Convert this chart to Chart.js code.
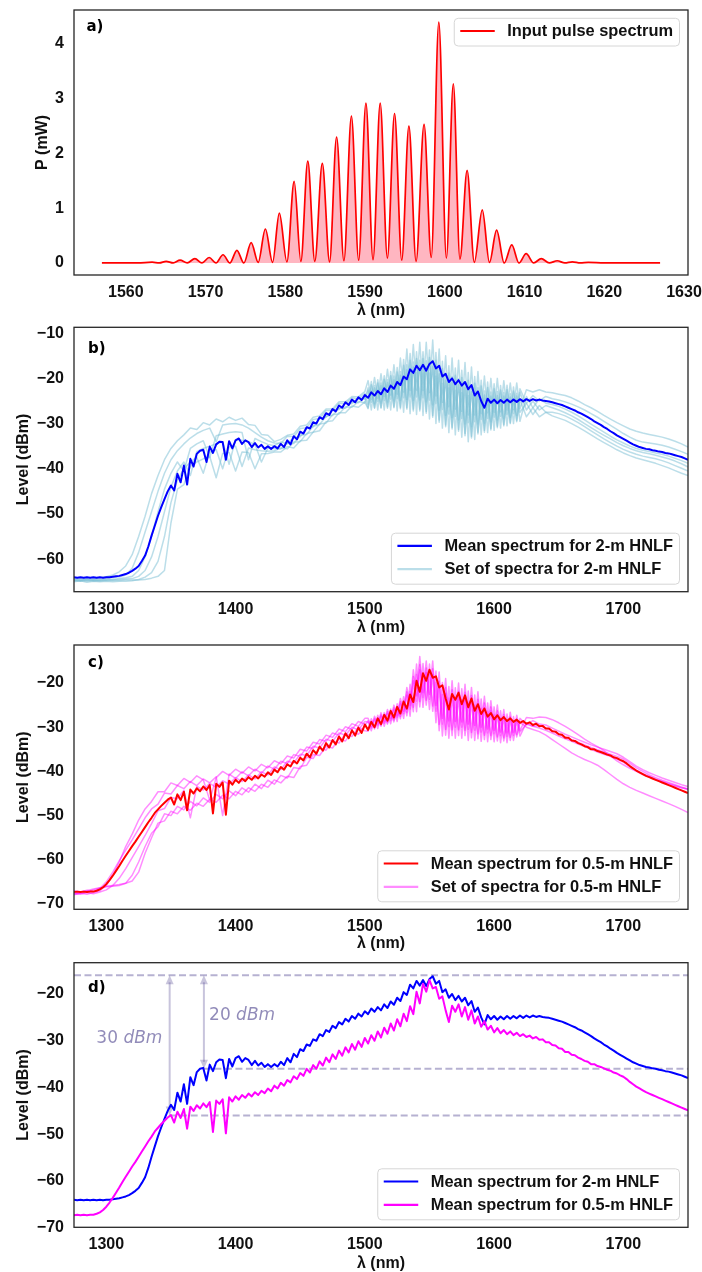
<!DOCTYPE html>
<html><head><meta charset="utf-8">
<script src="https://cdn.jsdelivr.net/npm/chart.js@4.4.1/dist/chart.umd.min.js"></script>
<style>
html,body{margin:0;padding:0;background:#fff;overflow:hidden}
#wrap{position:relative;width:702px;height:1272px;background:#fff}
canvas{position:absolute;left:0}
</style></head><body><div id="wrap">
<canvas id="cA" width="702" height="320" style="top:0px"></canvas>
<canvas id="cB" width="702" height="320" style="top:320px"></canvas>
<canvas id="cC" width="702" height="320" style="top:640px"></canvas>
<canvas id="cD" width="702" height="312" style="top:960px"></canvas>
</div>
<script>
// ---------- Panel a: input pulse spectrum ----------
const inputWl = [1557.0,1559.0,1561.5,1563.3,1564.2,1565.05,1565.95,1566.8,1567.7,1568.66,1569.55,1570.45,1571.3,1572.19,1573.05,1573.93,1574.8,1575.72,1576.6,1577.5,1578.4,1579.25,1580.2,1581.11,1581.95,1582.82,1583.7,1584.64,1585.55,1586.43,1587.35,1588.29,1589.2,1590.11,1591.0,1591.9,1592.8,1593.7,1594.6,1595.5,1596.4,1597.4,1598.3,1599.25,1600.2,1601.07,1601.9,1602.8,1603.7,1604.7,1605.6,1606.5,1607.45,1608.4,1609.3,1610.2,1611.15,1612.1,1613.1,1614.1,1615.05,1616.0,1617.0,1618.0,1620.0,1623.0,1627.0];
const inputP = [0.00,0.00,0.00,0.015,0.00,0.03,0.00,0.05,0.00,0.08,0.00,0.10,0.00,0.15,0.00,0.23,0.00,0.37,0.01,0.62,0.01,0.91,0.02,1.49,0.03,1.86,0.03,1.82,0.02,2.30,0.04,2.68,0.05,2.92,0.06,2.92,0.09,2.73,0.05,2.50,0.03,2.53,0.10,4.40,0.09,3.27,0.07,1.69,0.01,0.97,0.01,0.60,0.00,0.33,0.00,0.17,0.00,0.08,0.00,0.04,0.00,0.02,0.00,0.01,0.00,0.00,0.00];
const ticksA_x = [1560,1570,1580,1590,1600,1610,1620,1630];
const ticksA_y = [0,1,2,3,4];

// ---------- Wavelength grids (nm) ----------
const wlS = [1275,1280,1285,1290,1295,1300,1305,1310,1315,1320,1325,1330,1335,1340,1345,1350,1355,1360,1365,1370,1375,1380,1385,1390,1395,1400,1405,1410,1415,1420,1425,1430,1435,1440,1445,1450,1455,1460,1465,1470,1475,1480,1485,1490,1495,1500,
1502.5,1505,1507.5,1510,1512.5,1515,1517.5,1520,1522.5,1525,1527.5,1530,1532.5,1535,1537.5,1540,1542.5,1545,1547.5,1550,1552.5,1555,1557.5,1560,1562.5,1565,1567.5,1570,1572.5,1575,1577.5,1580,1582.5,1585,1587.5,1590,1592.5,1595,1597.5,1600,1602.5,1605,1607.5,1610,1612.5,1615,1617.5,1620,
1625,1630,1635,1640,1645,1650,1655,1660,1665,1670,1675,1680,1685,1690,1695,1700,1705,1710,1715,1720,1725,1730,1735,1740,1745,1750];
const wl25 = [1275,1277.5,1280,1282.5,1285,1287.5,1290,1292.5,1295,1297.5,1300,1302.5,1305,1307.5,1310,1312.5,1315,1317.5,1320,1322.5,1325,1327.5,1330,1332.5,1335,1337.5,1340,1342.5,1345,1347.5,
1350,1352.5,1355,1357.5,1360,1362.5,1365,1367.5,1370,1372.5,1375,1377.5,1380,1382.5,1385,1387.5,1390,1392.5,1395,1397.5,1400,1402.5,1405,1407.5,1410,1412.5,1415,1417.5,1420,1422.5,
1425,1427.5,1430,1432.5,1435,1437.5,1440,1442.5,1445,1447.5,1450,1452.5,1455,1457.5,1460,1462.5,1465,1467.5,1470,1472.5,1475,1477.5,1480,1482.5,1485,1487.5,1490,1492.5,1495,1497.5,
1500,1502.5,1505,1507.5,1510,1512.5,1515,1517.5,1520,1522.5,1525,1527.5,1530,1532.5,1535,1537.5,1540,1542.5,1545,1547.5,1550,1552.5,1555,1557.5,1560,1562.5,1565,1567.5,1570,1572.5,
1575,1577.5,1580,1582.5,1585,1587.5,1590,1592.5,1595,1597.5,1600,1602.5,1605,1607.5,1610,1612.5,1615,1617.5,1620,1622.5,1625,1627.5,1630,1632.5,1635,1637.5,1640,1642.5,1645,1647.5,
1650,1652.5,1655,1657.5,1660,1662.5,1665,1667.5,1670,1672.5,1675,1677.5,1680,1682.5,1685,1687.5,1690,1692.5,1695,1697.5,1700,1702.5,1705,1707.5,1710,1712.5,1715,1717.5,1720,1722.5,
1725,1727.5,1730,1732.5,1735,1737.5,1740,1742.5,1745,1747.5,1750];

// ---------- Mean spectra (dBm), on wl25 ----------
const mean2m = [-64.0,-64.1,-64.0,-64.1,-64.0,-64.1,-64.0,-64.1,-64.0,-64.1,-64.0,-64.0,-63.9,-63.8,-63.7,-63.5,-63.3,-63.0,-62.6,-62.1,-61.5,-60.4,-59.2,-57.2,-54.8,-52.6,-50.4,-48.5,-46.7,-45.0,
-43.7,-44.8,-41.1,-43.0,-39.3,-43.5,-37.8,-39.5,-36.7,-36.0,-35.8,-38.5,-35.1,-36.5,-34.6,-34.0,-34.1,-38.0,-33.9,-35.5,-33.7,-33.3,-34.5,-33.7,-34.1,-35.2,-34.3,-35.3,-34.7,-35.6,
-35.0,-35.6,-35.0,-35.5,-34.5,-35.2,-33.7,-34.6,-32.8,-33.5,-31.8,-32.2,-30.8,-31.1,-29.7,-30.0,-28.6,-29.0,-27.7,-28.1,-26.8,-27.3,-26.0,-26.5,-25.3,-25.9,-24.7,-25.3,-24.2,-24.8,
-23.7,-24.3,-23.1,-23.8,-22.8,-23.5,-22.2,-23.0,-21.6,-22.3,-20.8,-21.5,-19.6,-20.2,-18.0,-18.8,-17.2,-18.2,-17.0,-18.3,-16.8,-16.2,-17.8,-17.2,-19.6,-19.0,-20.8,-20.0,-21.3,-20.4,
-21.6,-20.8,-22.4,-21.5,-23.8,-22.9,-25.0,-26.5,-24.5,-25.4,-24.7,-25.5,-24.8,-25.4,-24.7,-25.3,-24.7,-25.2,-24.6,-25.1,-24.6,-25.0,-24.6,-24.9,-24.7,-24.9,-25.0,-25.1,-25.3,-25.5,
-25.7,-25.9,-26.2,-26.5,-26.8,-27.1,-27.5,-27.8,-28.2,-28.6,-29.0,-29.5,-29.9,-30.3,-30.8,-31.2,-31.7,-32.1,-32.6,-33.0,-33.4,-33.8,-34.2,-34.6,-34.9,-35.2,-35.4,-35.6,-35.7,-35.9,
-36.0,-36.2,-36.3,-36.5,-36.6,-36.8,-37.0,-37.2,-37.4,-37.7,-38.0];
const mean05m = [-67.3,-67.2,-67.3,-67.2,-67.3,-67.2,-67.2,-67.0,-66.7,-66.2,-65.5,-64.6,-63.6,-62.5,-61.4,-60.2,-59.1,-58.0,-56.9,-55.9,-54.8,-53.7,-52.6,-51.5,-50.5,-49.4,-48.6,-47.8,-47.1,-46.4,
-45.9,-47.5,-45.2,-46.5,-44.6,-48.8,-44.1,-45.0,-43.8,-44.5,-43.4,-44.2,-43.1,-49.5,-42.8,-43.5,-42.5,-49.8,-42.1,-43.0,-41.9,-42.6,-41.6,-42.2,-41.3,-41.9,-41.0,-41.6,-40.7,-41.2,
-40.2,-40.8,-39.6,-40.2,-39.0,-39.6,-38.4,-38.9,-37.6,-38.2,-36.9,-37.5,-36.0,-36.8,-35.2,-36.0,-34.4,-35.3,-33.6,-34.6,-32.9,-33.9,-32.1,-33.2,-31.4,-32.5,-30.7,-31.9,-30.1,-31.3,
-29.4,-30.6,-28.8,-30.0,-28.0,-29.3,-27.2,-28.5,-26.3,-27.8,-25.4,-26.9,-24.2,-25.8,-22.6,-24.3,-19.5,-22.0,-17.8,-19.5,-17.0,-18.8,-18.5,-21.0,-20.5,-23.5,-26.0,-22.5,-23.8,-22.2,
-24.8,-22.8,-25.5,-23.5,-26.3,-24.8,-27.0,-25.8,-27.6,-26.8,-28.2,-27.3,-28.4,-27.7,-28.6,-28.0,-28.8,-28.3,-29.0,-28.6,-29.2,-28.9,-29.5,-29.2,-29.8,-29.7,-30.3,-30.3,-30.9,-31.0,
-31.6,-31.7,-32.4,-32.4,-33.0,-33.1,-33.6,-33.9,-34.3,-34.5,-35.0,-35.0,-35.4,-35.6,-35.9,-36.2,-36.4,-36.8,-37.0,-37.4,-37.7,-38.2,-38.8,-39.3,-39.8,-40.2,-40.6,-41.0,-41.3,-41.6,
-41.9,-42.2,-42.5,-42.8,-43.1,-43.4,-43.7,-44.0,-44.3,-44.6,-44.9];

// ---------- Set of spectra, 2-m HNLF (on wlS) ----------
const set2m_1 = [-64.3,-64.6,-64.2,-64.5,-64.1,-63.9,-63.5,-62.8,-61.5,
-59.0,-55.0,-50.5,-45.5,-41.5,-38.0,-35.5,-33.8,-32.5,-31.0,-31.3,-29.8,-30.3,-29.0,-29.6,-28.6,-29.3,-28.8,-30.2,-30.4,-32.4,-32.6,-34.0,
-33.5,-32.6,-32.3,-30.6,-30.3,-28.6,-28.3,-26.8,-26.7,-25.2,-25.2,-24.0,-24.1,-22.9,
-20.5,-24.6,-19.8,-24.4,-19.0,-24.0,-18.0,-23.7,-17.0,-23.5,-15.5,-23.0,-13.5,-22.6,-12.5,-22.6,-12.0,-22.7,-12.0,-23.1,-11.5,-23.9,-13.5,-25.3,-15.0,-26.3,-15.5,-26.8,-16.0,-27.3,-16.5,-28.1,-17.5,-28.1,-18.5,-27.8,-19.5,-27.6,-20.0,-27.5,-20.0,-27.4,-20.5,-27.0,-21.0,-26.9,-21.0,-26.7,
-22.5,-23.0,-22.5,-23.0,-23.2,-23.5,-23.8,-24.3,-25.0,-25.8,-26.5,-27.3,-28.2,-29.0,-29.8,-30.5,-31.2,-31.7,-32.1,-32.4,-32.7,-33.0,-33.4,-33.9,-34.5,-35.2];
const set2m_2 = [-64.5,-64.3,-64.6,-64.4,-64.5,-64.3,-64.1,-63.9,-63.5,
-62.0,-58.5,-54.0,-49.5,-45.0,-41.0,-38.0,-36.0,-34.5,-33.2,-32.2,-31.5,-31.0,-34.0,-30.3,-30.1,-30.0,-30.3,-31.0,-32.0,-33.0,-33.8,-34.3,
-34.4,-32.8,-32.9,-31.1,-30.9,-29.1,-28.9,-27.1,-27.1,-25.5,-25.6,-24.3,-24.6,-23.3,
-25.7,-20.7,-25.6,-20.3,-25.4,-19.4,-25.2,-18.5,-25.0,-17.6,-24.9,-15.8,-24.7,-14.5,-24.9,-14.1,-24.8,-14.1,-25.2,-13.7,-25.9,-14.3,-27.1,-16.2,-28.2,-17.2,-28.7,-17.7,-29.2,-18.2,-30.1,-18.7,-30.7,-19.6,-30.1,-20.4,-29.9,-20.8,-29.6,-21.2,-29.2,-21.6,-28.9,-21.5,-28.6,-21.9,-28.2,-22.3,
-25.5,-23.8,-25.0,-24.0,-24.5,-24.8,-25.2,-25.7,-26.3,-27.0,-27.8,-28.6,-29.5,-30.4,-31.3,-32.2,-33.0,-33.7,-34.1,-34.3,-34.5,-34.8,-35.2,-35.7,-36.2,-36.8];
const set2m_3 = [-64.8,-64.6,-64.9,-64.7,-64.8,-64.6,-64.5,-64.3,-64.1,
-63.8,-62.5,-59.5,-55.0,-49.5,-44.5,-41.0,-38.5,-40.5,-35.5,-34.5,-33.8,-37.5,-32.7,-32.3,-32.0,-31.8,-32.0,-38.0,-33.3,-34.0,-34.6,-34.9,
-34.1,-34.4,-33.1,-32.9,-31.1,-30.7,-28.9,-28.6,-26.9,-26.9,-25.4,-25.6,-24.3,-24.6,
-22.1,-27.0,-21.6,-27.0,-21.0,-27.0,-20.3,-27.0,-19.5,-27.2,-18.5,-27.5,-17.0,-27.8,-16.4,-28.0,-16.0,-28.2,-16.1,-29.0,-16.0,-30.0,-17.8,-31.0,-19.1,-32.0,-19.6,-32.5,-20.1,-33.0,-20.8,-34.0,-21.6,-33.5,-22.1,-32.5,-22.8,-32.0,-23.0,-31.5,-22.9,-31.0,-23.1,-30.5,-23.4,-30.0,-23.3,-29.5,
-24.0,-26.5,-24.5,-25.5,-25.8,-26.2,-26.8,-27.5,-28.3,-29.2,-30.1,-31.0,-31.9,-32.8,-33.6,-34.3,-35.0,-35.5,-35.9,-36.2,-36.5,-36.8,-37.2,-37.7,-38.2,-38.8];
const set2m_4 = [-64.6,-64.8,-64.5,-64.7,-64.6,-64.5,-64.6,-64.5,-64.4,
-64.3,-63.8,-62.5,-59.5,-55.0,-49.5,-44.0,-40.5,-38.5,-41.5,-36.2,-35.5,-35.0,-34.5,-34.0,-39.0,-33.5,-33.7,-34.0,-34.6,-38.5,-35.4,-35.5,
-35.6,-34.4,-34.4,-32.6,-32.4,-30.6,-30.2,-28.4,-28.2,-26.6,-26.6,-25.2,-25.4,-24.2,
-26.5,-21.4,-26.5,-21.0,-26.4,-20.2,-26.3,-19.4,-26.3,-18.6,-26.4,-17.1,-26.5,-16.0,-26.8,-15.6,-26.8,-15.6,-27.3,-15.4,-28.2,-16.0,-29.2,-17.8,-30.3,-18.8,-30.8,-19.3,-31.3,-19.8,-32.2,-20.4,-32.8,-21.1,-31.9,-21.7,-31.5,-22.0,-31.1,-22.3,-30.6,-22.6,-30.2,-22.5,-29.8,-22.8,-29.3,-23.1,
-27.0,-25.0,-27.0,-26.0,-26.5,-27.0,-27.6,-28.3,-29.1,-30.0,-30.9,-31.8,-32.6,-33.4,-34.2,-34.9,-35.5,-36.0,-36.4,-36.7,-37.0,-37.4,-37.8,-38.3,-38.9,-39.6];
const set2m_5 = [-65.0,-64.8,-65.1,-64.9,-65.0,-64.9,-65.0,-64.9,-64.9,
-64.8,-64.5,-64.0,-63.0,-60.5,-55.0,-47.5,-42.5,-40.0,-38.5,-37.5,-41.0,-36.3,-35.8,-40.0,-35.2,-35.0,-39.5,-35.4,-35.8,-36.0,-36.1,-36.0,
-35.4,-35.6,-34.1,-34.0,-32.2,-31.9,-30.1,-29.9,-28.0,-27.9,-26.3,-26.4,-25.1,-25.4,
-22.6,-25.3,-22.1,-25.1,-21.6,-24.9,-20.9,-24.6,-20.3,-24.5,-19.3,-24.3,-18.1,-24.1,-17.5,-24.1,-17.2,-24.3,-17.4,-24.8,-17.4,-25.6,-19.0,-26.9,-20.4,-27.9,-20.9,-28.4,-21.4,-28.9,-22.0,-29.8,-22.9,-29.6,-23.2,-29.1,-23.7,-28.9,-23.9,-28.6,-23.8,-28.4,-23.9,-28.0,-24.1,-27.8,-23.9,-27.5,
-25.5,-28.0,-26.0,-27.5,-27.5,-27.8,-28.3,-29.0,-29.8,-30.7,-31.6,-32.5,-33.4,-34.2,-35.0,-35.7,-36.3,-36.8,-37.2,-37.5,-37.8,-38.2,-38.7,-39.3,-39.9,-40.5];
const set2m_6 = [-64.7,-64.9,-64.6,-64.8,-64.7,-64.8,-64.7,-64.7,-64.6,
-64.6,-64.6,-64.5,-64.2,-63.8,-62.5,-52.0,-44.5,-43.5,-39.5,-38.5,-37.8,-37.3,-42.0,-36.6,-36.4,-40.5,-36.3,-36.4,-40.0,-36.7,-36.6,-36.3,
-36.3,-35.1,-35.4,-33.8,-33.7,-31.9,-31.6,-29.6,-29.4,-27.6,-27.6,-26.1,-26.4,-25.2,
-26.7,-22.8,-26.6,-22.5,-26.6,-21.9,-26.6,-21.3,-26.5,-20.8,-26.7,-19.7,-26.8,-18.9,-27.2,-18.7,-27.2,-18.8,-27.7,-18.8,-28.6,-19.5,-29.7,-21.1,-30.7,-22.1,-31.2,-22.6,-31.7,-23.1,-32.7,-23.8,-33.2,-24.2,-32.3,-24.4,-31.9,-24.5,-31.4,-24.6,-30.9,-24.7,-30.5,-24.5,-30.0,-24.6,-29.6,-24.7,
-28.5,-26.5,-28.5,-27.5,-28.3,-28.8,-29.3,-30.0,-30.8,-31.6,-32.5,-33.4,-34.2,-35.0,-35.8,-36.5,-37.1,-37.6,-38.0,-38.4,-38.8,-39.3,-39.8,-40.4,-41.0,-41.5];

// ---------- Set of spectra, 0.5-m HNLF (on wlS) ----------
const set05m_1 = [-67.8,-67.5,-67.8,-67.4,-67.0,-65.8,
-63.5,-60.5,-57.0,-54.2,-51.0,-48.5,-46.8,-44.6,-44.6,-42.6,-43.2,-41.6,-42.5,-41.0,-41.9,-46.5,-41.4,-40.0,-40.9,-39.5,-40.4,-39.0,-39.9,-38.4,-39.2,-37.6,-38.3,-36.5,-37.0,-35.0,-35.4,-33.4,-33.8,-31.8,-32.3,-30.4,-31.0,-29.2,-29.8,-28.0,
-28.0,-29.9,-27.5,-29.3,-26.7,-28.8,-26.0,-28.1,-25.0,-27.4,-23.5,-26.4,-21.0,-25.1,-17.0,-22.9,-14.0,-22.2,-15.0,-22.6,-15.0,-25.1,-17.5,-28.0,-19.0,-28.6,-19.5,-28.7,-20.0,-28.8,-20.3,-29.3,-21.0,-29.6,-22.0,-30.0,-23.0,-30.4,-24.0,-30.7,-25.0,-31.1,-26.0,-31.3,-26.6,-31.2,-27.3,-30.7,
-27.8,-28.0,-27.7,-27.8,-28.3,-29.0,-29.8,-30.7,-31.7,-32.7,-33.6,-34.4,-35.3,-36.5,-37.6,-38.5,-39.3,-40.0,-40.7,-41.3,-41.9,-42.4,-42.9,-43.3,-43.7,-44.0];
const set05m_2 = [-67.0,-67.3,-66.9,-67.2,-66.5,-65.0,
-62.8,-60.2,-57.8,-55.5,-53.0,-50.5,-48.5,-47.4,-44.9,-45.1,-43.2,-43.9,-42.3,-43.2,-41.7,-42.6,-41.2,-50.0,-40.6,-41.6,-40.1,-41.0,-39.5,-40.4,-38.8,-39.5,-37.7,-38.2,-36.2,-36.6,-34.5,-34.8,-32.8,-33.2,-31.3,-31.8,-29.9,-30.5,-28.7,-29.3,
-30.6,-28.1,-30.1,-27.3,-29.5,-26.7,-29.0,-25.9,-28.4,-24.7,-27.6,-23.1,-26.7,-20.3,-25.5,-15.7,-24.2,-15.6,-23.9,-15.7,-25.2,-17.3,-29.4,-19.9,-30.5,-20.8,-30.6,-21.1,-30.6,-21.3,-30.7,-21.8,-31.2,-22.7,-31.5,-23.6,-31.8,-24.5,-31.9,-25.4,-32.2,-26.3,-32.4,-27.0,-32.3,-27.6,-31.7,-28.0,
-29.5,-28.5,-29.3,-29.5,-30.2,-30.9,-31.6,-32.2,-32.8,-33.4,-34.0,-34.5,-35.0,-35.5,-36.0,-36.8,-37.8,-38.8,-39.6,-40.3,-40.9,-41.5,-42.0,-42.5,-43.0,-43.4];
const set05m_3 = [-67.5,-67.8,-67.4,-67.7,-67.3,-66.8,
-65.8,-64.2,-62.0,-59.5,-57.0,-54.5,-51.8,-48.9,-48.4,-45.9,-46.2,-44.3,-50.5,-43.4,-44.2,-42.7,-43.6,-42.1,-42.9,-41.4,-42.3,-40.8,-41.7,-40.1,-40.8,-39.0,-39.6,-37.7,-38.1,-36.1,-36.4,-34.3,-34.7,-32.7,-33.2,-31.3,-31.8,-30.0,-30.6,-28.7,
-28.8,-30.8,-28.3,-30.3,-27.5,-29.8,-26.9,-29.2,-26.0,-28.7,-24.7,-28.0,-22.7,-27.5,-19.5,-26.5,-17.0,-25.5,-17.6,-26.0,-18.0,-29.0,-21.0,-32.0,-22.4,-32.5,-22.8,-32.5,-23.1,-32.5,-23.4,-33.0,-24.0,-33.0,-24.8,-33.2,-25.6,-33.3,-26.3,-33.3,-27.1,-33.5,-27.9,-33.5,-28.3,-33.0,-28.6,-32.0,
-29.0,-29.8,-29.6,-30.2,-30.8,-31.5,-32.2,-32.8,-33.4,-34.0,-34.6,-35.1,-35.6,-36.1,-36.6,-37.2,-38.2,-39.2,-40.0,-40.8,-41.4,-42.0,-42.5,-43.0,-43.5,-44.0];
const set05m_4 = [-67.6,-67.3,-67.0,-66.6,-66.3,-66.1,
-66.0,-65.8,-65.3,-63.5,-60.5,-57.0,-54.0,-52.5,-49.6,-50.0,-47.9,-48.7,-46.8,-47.8,-46.0,-47.0,-45.2,-46.2,-44.4,-45.5,-43.7,-44.7,-42.9,-43.9,-42.0,-42.9,-40.9,-41.5,-39.1,-39.4,-36.8,-37.1,-34.7,-35.2,-33.0,-33.6,-31.4,-32.1,-30.0,-30.8,
-30.9,-28.7,-30.4,-28.0,-29.8,-27.4,-29.3,-26.6,-28.8,-25.6,-28.1,-24.2,-27.4,-21.9,-26.5,-18.1,-25.4,-17.8,-25.0,-18.0,-26.4,-19.9,-30.8,-22.6,-31.8,-23.4,-31.9,-23.6,-31.9,-23.8,-31.9,-24.3,-32.4,-25.0,-32.6,-25.7,-32.8,-26.4,-32.8,-27.1,-33.1,-27.9,-33.1,-28.5,-33.0,-28.8,-32.2,-28.9,
-30.0,-30.5,-31.0,-31.8,-32.8,-33.8,-34.8,-35.8,-36.6,-37.3,-37.9,-38.6,-39.6,-40.7,-41.8,-42.8,-43.6,-44.3,-44.9,-45.5,-46.1,-46.7,-47.3,-47.9,-48.6,-49.3];
const set05m_5 = [-67.9,-67.6,-67.2,-66.8,-66.4,-66.0,
-65.8,-65.6,-65.3,-64.8,-62.8,-58.5,-55.0,-51.7,-51.2,-49.0,-49.6,-47.9,-48.8,-47.2,-47.9,-46.3,-47.0,-45.4,-46.2,-44.5,-45.3,-43.7,-44.5,-42.9,-43.6,-41.9,-42.6,-41.1,-41.4,-38.9,-38.6,-36.2,-36.4,-34.3,-34.7,-32.7,-33.1,-31.1,-31.6,-29.7,
-28.5,-30.2,-28.0,-29.6,-27.2,-29.1,-26.5,-28.5,-25.6,-27.8,-24.2,-26.9,-22.0,-25.9,-18.5,-24.1,-15.8,-23.3,-16.6,-23.7,-16.8,-26.4,-19.6,-29.3,-21.0,-29.9,-21.5,-30.0,-21.9,-30.0,-22.1,-30.5,-22.8,-30.7,-23.7,-31.1,-24.5,-31.3,-25.4,-31.5,-26.3,-31.9,-27.1,-32.1,-27.6,-31.8,-28.1,-31.1,
-29.3,-29.8,-30.2,-30.7,-31.3,-32.0,-32.6,-33.2,-33.8,-34.4,-35.0,-35.6,-36.1,-36.6,-37.2,-37.9,-38.9,-39.8,-40.5,-41.1,-41.7,-42.2,-42.7,-43.2,-43.7,-44.1];

// ---------- Tick labels ----------
const ticksWl = [1300,1400,1500,1600,1700];
const ticksB_y = [-60,-50,-40,-30,-20,-10];
const ticksC_y = [-70,-60,-50,-40,-30,-20];
const ticksD_y = [-70,-60,-50,-40,-30,-20];

// ---------- Panel d reference levels (dBm) ----------
const refPeak = -16;
const refLevels = [-36, -46];
const refLabels = ['20 ', '30 '];

// ================= drawing =================
const FONT = 'Liberation Sans';
const TXT = '#111111';
const BLUE = '#0000ff', RED = '#ff0000', MAG = '#ff00ff';
const SETB = 'rgba(120,190,212,0.5)';
const SETC = 'rgba(255,0,255,0.45)';
const GUIDE = 'rgba(72,61,139,0.4)';
const ARROW = 'rgba(72,61,139,0.3)';
const GTEXT = 'rgba(72,61,139,0.6)';

function fmt(v){ return v < 0 ? '\u2212' + Math.abs(v) : String(v); }
function pts(xs, ys){ return xs.map((x,i)=>({x:x, y:ys[i]})); }

const decor = {
  id: 'decor',
  beforeDatasetsDraw(chart, args, o) {
    if (!o.guides) return;
    const ctx = chart.ctx, xs = chart.scales.x, ys = chart.scales.y, g = o.guides;
    ctx.save();
    ctx.strokeStyle = GUIDE; ctx.lineWidth = 2; ctx.setLineDash([7,3.5]);
    g.hlines.forEach(h => {
      ctx.beginPath();
      ctx.moveTo(xs.getPixelForValue(h.x1), ys.getPixelForValue(h.y));
      ctx.lineTo(xs.getPixelForValue(h.x2), ys.getPixelForValue(h.y));
      ctx.stroke();
    });
    ctx.setLineDash([]);
    ctx.strokeStyle = ARROW; ctx.fillStyle = ARROW; ctx.lineWidth = 2;
    g.arrows.forEach(a => {
      const x = xs.getPixelForValue(a.x), y1 = ys.getPixelForValue(a.y1), y2 = ys.getPixelForValue(a.y2);
      ctx.beginPath(); ctx.moveTo(x, y1 - 7); ctx.lineTo(x, y2 + 7); ctx.stroke();
      ctx.beginPath(); ctx.moveTo(x, y2); ctx.lineTo(x - 4, y2 + 9); ctx.lineTo(x + 4, y2 + 9); ctx.closePath(); ctx.fill();
      ctx.beginPath(); ctx.moveTo(x, y1); ctx.lineTo(x - 4, y1 - 9); ctx.lineTo(x + 4, y1 - 9); ctx.closePath(); ctx.fill();
    });
    ctx.fillStyle = GTEXT; ctx.textBaseline = 'middle'; ctx.textAlign = 'left';
    g.texts.forEach(t => {
      let x = xs.getPixelForValue(t.x); const y = ys.getPixelForValue(t.y);
      ctx.font = '17px "DejaVu Sans"'; ctx.fillText(t.num, x, y);
      x += ctx.measureText(t.num).width;
      ctx.font = 'italic 17px "DejaVu Sans"'; ctx.fillText(t.unit, x, y);
    });
    ctx.restore();
  },
  afterDatasetsDraw(chart, args, o) {
    const ctx = chart.ctx, a = chart.chartArea;
    ctx.save();
    ctx.strokeStyle = '#262626'; ctx.lineWidth = 1.3;
    ctx.strokeRect(a.left, a.top, a.right - a.left, a.bottom - a.top);
    ctx.fillStyle = '#000'; ctx.font = 'bold 15px "DejaVu Sans"';
    ctx.textBaseline = 'middle'; ctx.textAlign = 'left';
    ctx.fillText(o.label, o.labelX, o.labelY);
    ctx.font = 'bold 16.4px "' + FONT + '"';
    let tw = 0; o.legend.forEach(it => { tw = Math.max(tw, ctx.measureText(it.label).width); });
    const w = 6 + 34.5 + 12.5 + tw + 6.5;
    const h = 4.4 + 23.3 * o.legend.length;
    const right = a.right - 8.5;
    const top = o.legendTop ? a.top + 8.3 : a.bottom - 7.5 - h;
    const left = right - w;
    ctx.beginPath();
    if (ctx.roundRect) ctx.roundRect(left, top, w, h, 4); else ctx.rect(left, top, w, h);
    ctx.fillStyle = 'rgba(255,255,255,0.8)'; ctx.fill();
    ctx.strokeStyle = '#d6d6d6'; ctx.lineWidth = 1; ctx.stroke();
    o.legend.forEach((it, i) => {
      const cy = top + 12.7 + i * 23.3;
      ctx.strokeStyle = it.color; ctx.lineWidth = 2.2;
      ctx.beginPath(); ctx.moveTo(left + 6, cy); ctx.lineTo(left + 40.5, cy); ctx.stroke();
      ctx.fillStyle = TXT; ctx.fillText(it.label, left + 53, cy + 0.5);
    });
    ctx.restore();
  }
};

function makeChart(id, c) {
  const tf = {family: FONT, size: 16, weight: 'bold'};
  return new Chart(document.getElementById(id), {
    type: 'line',
    data: {datasets: c.datasets},
    options: {
      responsive: false, animation: false, devicePixelRatio: 1,
      layout: {padding: {top: c.padTop, right: 14, left: 0, bottom: 0}},
      plugins: {legend: {display: false}, tooltip: {enabled: false}, decor: c.decor},
      elements: {point: {radius: 0}, line: {borderJoinStyle: 'round', tension: 0}},
      scales: {
        x: {type: 'linear', min: c.xMin, max: c.xMax,
          afterFit: s => { s.height = c.xAxisH; s.paddingLeft = 0; s.paddingRight = 0; },
          afterBuildTicks: s => { s.ticks = c.xTicks.map(v => ({value: v})); },
          grid: {display: false, drawTicks: false}, border: {display: false},
          ticks: {font: tf, color: TXT, padding: c.xTickPad, maxRotation: 0, autoSkip: false, callback: v => fmt(v)},
          title: {display: true, text: 'λ (nm)', font: tf, color: TXT, padding: {top: 0, bottom: c.xTitlePad}}},
        y: {type: 'linear', min: c.yMin, max: c.yMax,
          afterFit: s => { s.width = 74; s.paddingTop = 0; s.paddingBottom = 0; },
          afterBuildTicks: s => { s.ticks = c.yTicks.map(v => ({value: v})); },
          grid: {display: false, drawTicks: false}, border: {display: false},
          ticks: {font: tf, color: TXT, padding: 10, autoSkip: false, callback: v => fmt(v)},
          title: {display: true, text: c.yTitle, font: tf, color: TXT, padding: {top: c.yTitlePad, bottom: 0}}}
      }
    },
    plugins: [decor]
  });
}

const setsB = [set2m_1, set2m_2, set2m_3, set2m_4, set2m_5, set2m_6];
const setsC = [set05m_1, set05m_2, set05m_3, set05m_4, set05m_5];

makeChart('cA', {
  padTop: 10, xAxisH: 45, xMin: 1553.5, xMax: 1630.5, yMin: -0.22, yMax: 4.62,
  xTicks: ticksA_x, yTicks: ticksA_y, xTickPad: 8, xTitlePad: -0.6, yTitle: 'P (mW)', yTitlePad: 33.4,
  datasets: [{data: pts(inputWl, inputP), borderColor: RED, borderWidth: 1.7, fill: 'origin',
    backgroundColor: '#ffb6c1', cubicInterpolationMode: 'monotone'}],
  decor: {label: 'a)', labelX: 86.5, labelY: 27.5, legendTop: true,
    legend: [{label: 'Input pulse spectrum', color: RED}]}
});

makeChart('cB', {
  padTop: 7.3, xAxisH: 48.3, xMin: 1275, xMax: 1750, yMin: -67.2, yMax: -8.7,
  xTicks: ticksWl, yTicks: ticksB_y, xTickPad: 8, xTitlePad: 2.4, yTitle: 'Level (dBm)', yTitlePad: 14.1,
  datasets: [{data: pts(wl25, mean2m), borderColor: BLUE, borderWidth: 2, order: 0}]
    .concat(setsB.map((s, i) => ({data: pts(wlS, s), borderColor: SETB, borderWidth: 1.5, order: 1 + i}))),
  decor: {label: 'b)', labelX: 88, labelY: 29.2,
    legend: [{label: 'Mean spectrum for 2-m HNLF', color: BLUE}, {label: 'Set of spectra for 2-m HNLF', color: SETB}]}
});

makeChart('cC', {
  padTop: 5, xAxisH: 50.7, xMin: 1275, xMax: 1750, yMin: -71.2, yMax: -11.4,
  xTicks: ticksWl, yTicks: ticksC_y, xTickPad: 8, xTitlePad: 6.4, yTitle: 'Level (dBm)', yTitlePad: 14.1,
  datasets: [{data: pts(wl25, mean05m), borderColor: RED, borderWidth: 2, order: 0}]
    .concat(setsC.map((s, i) => ({data: pts(wlS, s), borderColor: SETC, borderWidth: 1.5, order: 1 + i}))),
  decor: {label: 'c)', labelX: 88, labelY: 22.8,
    legend: [{label: 'Mean spectrum for 0.5-m HNLF', color: RED}, {label: 'Set of spectra for 0.5-m HNLF', color: SETC}]}
});

makeChart('cD', {
  padTop: 2.7, xAxisH: 44.7, xMin: 1275, xMax: 1750, yMin: -69.9, yMax: -13.3,
  xTicks: ticksWl, yTicks: ticksD_y, xTickPad: 8, xTitlePad: -1.1, yTitle: 'Level (dBm)', yTitlePad: 14.1,
  datasets: [
    {data: pts(wl25, mean05m), borderColor: MAG, borderWidth: 2, order: 0},
    {data: pts(wl25, mean2m), borderColor: BLUE, borderWidth: 2, order: 1}],
  decor: {label: 'd)', labelX: 88, labelY: 28.3,
    guides: {
      hlines: [{y: refPeak, x1: 1275, x2: 1750}, {y: refLevels[0], x1: 1375.5, x2: 1750}, {y: refLevels[1], x1: 1349, x2: 1750}],
      arrows: [{x: 1349, y1: refLevels[1], y2: refPeak}, {x: 1375.5, y1: refLevels[0], y2: refPeak}],
      texts: [{x: 1292.3, y: -29.6, num: refLabels[1], unit: 'dBm'}, {x: 1379.5, y: -24.6, num: refLabels[0], unit: 'dBm'}]
    },
    legend: [{label: 'Mean spectrum for 2-m HNLF', color: BLUE}, {label: 'Mean spectrum for 0.5-m HNLF', color: MAG}]}
});
</script></body></html>
